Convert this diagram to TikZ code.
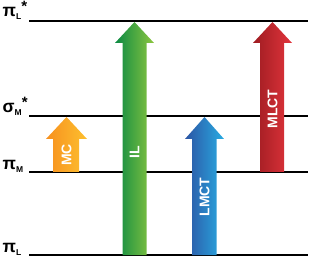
\documentclass[tikz,border=0pt]{standalone}
\usepackage{fontspec}
\setmainfont{Liberation Sans}
\definecolor{orA}{HTML}{F7901E}
\definecolor{orB}{HTML}{FDC02F}
\definecolor{grA}{HTML}{0B8A43}
\definecolor{grB}{HTML}{8CC63F}
\definecolor{blA}{HTML}{2C55A4}
\definecolor{blB}{HTML}{29ABE2}
\definecolor{rdA}{HTML}{9E1C21}
\definecolor{rdB}{HTML}{E2343C}
\newcommand{\lvsub}[1]{\raisebox{-3pt}{\fontsize{8.5}{8.5}\selectfont #1}}
\newcommand{\lvst}{\raisebox{5pt}{\fontsize{15}{15}\selectfont *}}
\begin{document}
\begin{tikzpicture}[x=1pt,y=-1pt,
  level/.style={line width=1.7pt, black},
  lvl/.style={font=\bfseries\fontsize{17.5}{17.5}\selectfont, anchor=base west, inner sep=0pt},
  alab/.style={font=\bfseries\fontsize{14}{14}\selectfont, text=white, rotate=90, inner sep=0pt}]
\useasboundingbox (0,0) rectangle (315,264);
% levels
\coordinate (a1) at (29,21); \coordinate (a2) at (308,21);
\coordinate (b1) at (29,116); \coordinate (b2) at (308,116);
\coordinate (c1) at (29,172); \coordinate (c2) at (308,172);
\coordinate (d1) at (29,255); \coordinate (d2) at (308,255);
\draw[level] (a1) -- (a2);
\draw[level] (b1) -- (b2);
\draw[level] (c1) -- (c2);
\draw[level] (d1) -- (d2);
\node[lvl] (la) at (2.5,16.5) {π\lvsub{L}\lvst};
\node[lvl] (lb) at (2.5,113) {σ\lvsub{M}\lvst};
\node[lvl] (lc) at (2.5,169.5) {π\lvsub{M}};
\node[lvl] (ld) at (2.5,252) {π\lvsub{L}};
% arrows
\shade[left color=orA, right color=orB] (53,172) -- (53,139) -- (46,139) -- (66.5,117) -- (87,139) -- (79,139) -- (79,172) -- cycle;
\shade[left color=grA, right color=grB] (122.5,255) -- (122.5,43) -- (115,43) -- (134.5,22) -- (154,43) -- (146.5,43) -- (146.5,255) -- cycle;
\shade[left color=blA, right color=blB] (192,255) -- (192,139) -- (185,139) -- (204.5,117) -- (224,139) -- (216.5,139) -- (216.5,255) -- cycle;
\shade[left color=rdA, right color=rdB] (260,172) -- (260,43) -- (253,43) -- (272.5,22) -- (292,43) -- (284,43) -- (284,172) -- cycle;
\node[alab] (mc) at (66.5,155) {MC};
\node[alab] (il) at (134.5,152) {IL};
\node[alab] (lmct) at (204.5,197) {LMCT};
\node[alab] (mlct) at (272.5,109) {MLCT};
\end{tikzpicture}
\end{document}
